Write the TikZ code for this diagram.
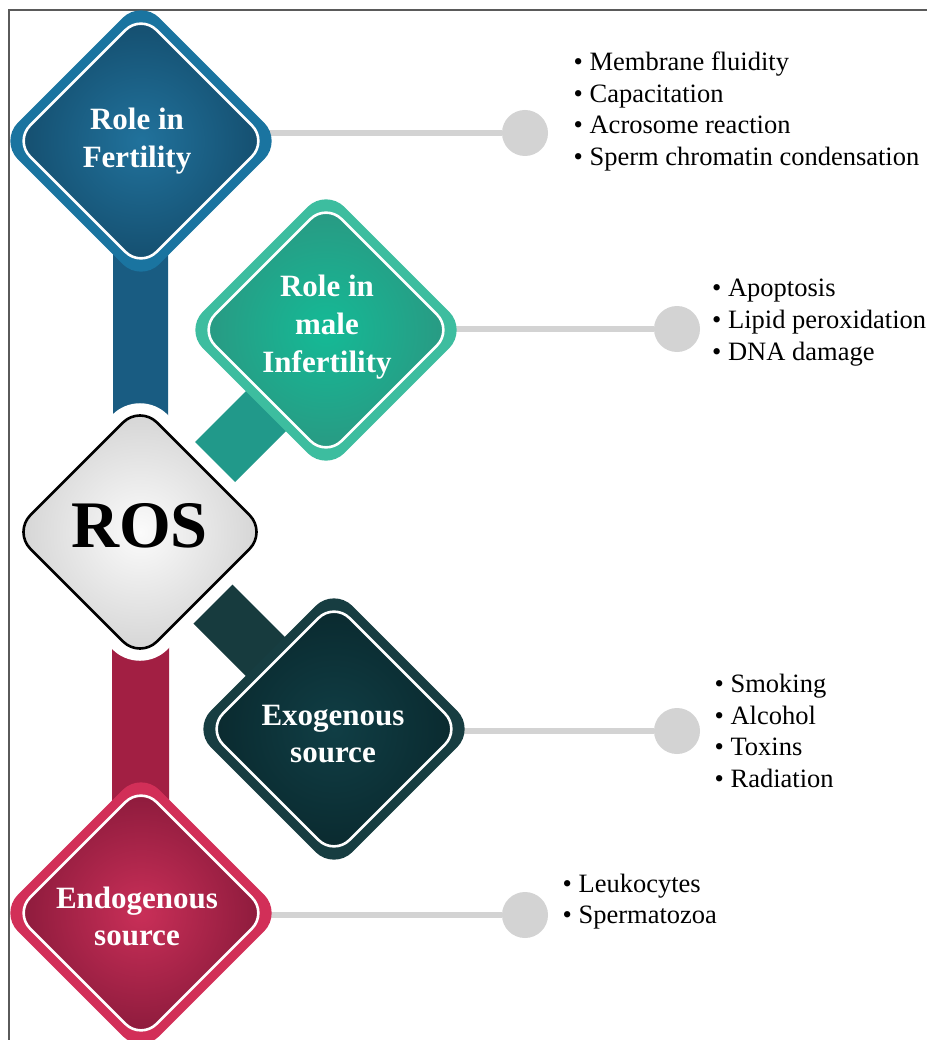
\documentclass[tikz,border=0pt]{standalone}
\usepackage{fontspec}
\setmainfont{Liberation Serif}
\usetikzlibrary{shapes.geometric,calc}
\definecolor{bordergray}{HTML}{5A5A5A}
\definecolor{dotgray}{HTML}{D3D3D3}
\definecolor{blueRing}{HTML}{1A74A0}
\definecolor{blueIn}{HTML}{21729C}
\definecolor{blueOut}{HTML}{144D6D}
\definecolor{blueBarE}{HTML}{195C82}
\definecolor{blueBarM}{HTML}{2274A0}
\definecolor{tealRing}{HTML}{3DBD9F}
\definecolor{tealIn}{HTML}{14BA96}
\definecolor{tealOut}{HTML}{2A9882}
\definecolor{tealBar}{HTML}{21998A}
\definecolor{darkRing}{HTML}{173D41}
\definecolor{darkIn}{HTML}{103E45}
\definecolor{darkOut}{HTML}{0A292E}
\definecolor{darkBar}{HTML}{173B3E}
\definecolor{redRing}{HTML}{D22F58}
\definecolor{redIn}{HTML}{C92F58}
\definecolor{redOut}{HTML}{8A1A3B}
\definecolor{redBarE}{HTML}{A21F43}
\definecolor{redBarM}{HTML}{CC2D54}
\definecolor{rosIn}{HTML}{FBFBFB}
\definecolor{rosOut}{HTML}{D3D3D3}
\begin{document}
\begin{tikzpicture}[x=1pt,y=-1pt,
  ring/.style={diamond, aspect=1, inner sep=0pt, minimum width=283pt, minimum height=283pt, rounded corners=26pt},
  core/.style={diamond, aspect=1, inner sep=0pt, minimum width=254pt, minimum height=254pt, rounded corners=22pt, draw=white, line width=2.6pt, shade},
  lbl/.style={anchor=base, inner sep=0pt, text=white, font=\bfseries\fontsize{31}{37.5}\selectfont},
  items/.style={anchor=base west, inner sep=0pt, font=\fontsize{26.5}{31.5}\selectfont},
  dot/.style={circle, fill=dotgray, inner sep=0pt, minimum size=46pt},
  link/.style={draw=dotgray, line width=6.5pt},
]
\useasboundingbox (0,0) rectangle (926,1040);
\fill[white] (0,0) rectangle (926,1040);
\draw[bordergray, line width=1.3pt] (9,1041) -- (9,10) -- (927,10);

\coordinate (pF) at (141,141);
\coordinate (pI) at (326,330);
\coordinate (pR) at (140,532);
\coordinate (pX) at (334,729);
\coordinate (pE) at (141,913);

% grey connectors
\node[dot] (c1) at (525,133) {};
\node[dot] (c2) at (677,329) {};
\node[dot] (c3) at (677,731) {};
\node[dot] (c4) at (525,915) {};
\draw[link] (pF |- c1) -- (c1);
\draw[link] (pI |- c2) -- (c2);
\draw[link] (pX |- c3) -- (c3);
\draw[link] (pE |- c4) -- (c4);

% bars
\shade[left color=blueBarE, middle color=blueBarM, right color=blueBarE] ($(pF)+(-28,0)$) rectangle ($(pR)+(28,0)$);
\shade[left color=redBarE, middle color=redBarM, right color=redBarE] ($(pR)+(-28,0)$) rectangle ($(pE)+(28,0)$);
\fill[tealBar] ($(pR)+(-18,-17)$) -- ($(pR)+(142,-177)$) -- ($(pR)+(182,-137)$) -- ($(pR)+(22,23)$) -- cycle;
\fill[darkBar] ($(pR)+(20,-20)$) -- ($(pR)+(190,150)$) -- ($(pR)+(151,189)$) -- ($(pR)+(-19,19)$) -- cycle;

% ROS
\node[diamond, aspect=1, inner sep=0pt, minimum width=290pt, minimum height=290pt, rounded corners=39pt, fill=white] (halo) at (pR) {};
\node[diamond, aspect=1, inner sep=0pt, minimum width=254pt, minimum height=254pt, rounded corners=24pt, draw=black, line width=2.6pt, shade, inner color=rosIn, outer color=rosOut] (ros) at (pR) {};
\node[anchor=base, inner sep=0pt, font=\bfseries\fontsize{66.5}{70}\selectfont] (rostext) at (139.5,547) {ROS};

% Role in Fertility
\node[ring, fill=blueRing] (fert) at (pF) {};
\node[core, inner color=blueIn, outer color=blueOut] (fertcore) at (pF) {};
\node[lbl] (ferttext) at (137,130) {\begin{tabular}[t]{@{}c@{}}Role in\\Fertility\end{tabular}};

% Role in male Infertility
\node[ring, fill=tealRing] (infert) at (pI) {};
\node[core, inner color=tealIn, outer color=tealOut] (infertcore) at (pI) {};
\node[lbl] (inferttext) at (327,297) {\begin{tabular}[t]{@{}c@{}}Role in\\male\\Infertility\end{tabular}};

% Exogenous source
\node[ring, fill=darkRing] (exo) at (pX) {};
\node[core, inner color=darkIn, outer color=darkOut] (exocore) at (pX) {};
\node[lbl] (exotext) at (333,725) {\begin{tabular}[t]{@{}c@{}}Exogenous\\source\end{tabular}};

% Endogenous source
\node[ring, fill=redRing] (endo) at (pE) {};
\node[core, inner color=redIn, outer color=redOut] (endocore) at (pE) {};
\node[lbl] (endotext) at (137,908) {\begin{tabular}[t]{@{}c@{}}Endogenous\\source\end{tabular}};

% lists
\node[items] (l1) at (573.5,71) {\begin{tabular}[t]{@{}l@{}}• Membrane fluidity\\• Capacitation\\• Acrosome reaction\\• Sperm chromatin condensation\end{tabular}};
\node[items] (l2) at (712,297) {\begin{tabular}[t]{@{}l@{}}• Apoptosis\\• Lipid peroxidation\\• DNA damage\end{tabular}};
\node[items] (l3) at (714.5,692.5) {\begin{tabular}[t]{@{}l@{}}• Smoking\\• Alcohol\\• Toxins\\• Radiation\end{tabular}};
\node[items] (l4) at (562.5,892) {\begin{tabular}[t]{@{}l@{}}• Leukocytes\\• Spermatozoa\end{tabular}};
\end{tikzpicture}
\end{document}
